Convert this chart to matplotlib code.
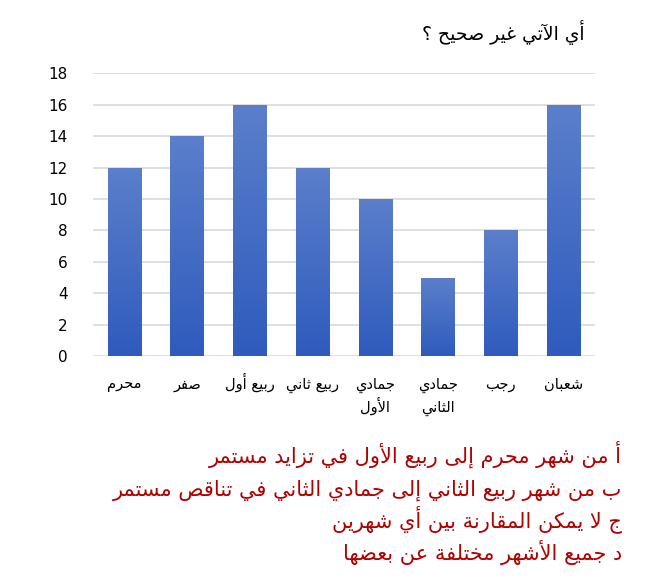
import matplotlib
matplotlib.use("Agg")
import matplotlib.pyplot as plt
import numpy as np
from matplotlib.colors import LinearSegmentedColormap

months = ["محرم", "صفر", "ربيع أول", "ربيع ثاني", "جمادي\nالأول", "جمادي\nالثاني", "رجب", "شعبان"]
values = [12, 14, 16, 12, 10, 5, 8, 16]
yticks = [0, 2, 4, 6, 8, 10, 12, 14, 16, 18]
title = "أي الآتي غير صحيح ؟"
options = [
    "أ من شهر محرم إلى ربيع الأول في تزايد مستمر",
    "ب من شهر ربيع الثاني إلى جمادي الثاني في تناقص مستمر",
    "ج لا يمكن المقارنة بين أي شهرين",
    "د جميع الأشهر مختلفة عن بعضها",
]

# arabic presentation forms: isolated, final, initial, medial
FORMS = {
    "ء": (0xFE80, None, None, None),
    "آ": (0xFE81, 0xFE82, None, None),
    "أ": (0xFE83, 0xFE84, None, None),
    "ؤ": (0xFE85, 0xFE86, None, None),
    "إ": (0xFE87, 0xFE88, None, None),
    "ئ": (0xFE89, 0xFE8A, 0xFE8B, 0xFE8C),
    "ا": (0xFE8D, 0xFE8E, None, None),
    "ب": (0xFE8F, 0xFE90, 0xFE91, 0xFE92),
    "ة": (0xFE93, 0xFE94, None, None),
    "ت": (0xFE95, 0xFE96, 0xFE97, 0xFE98),
    "ث": (0xFE99, 0xFE9A, 0xFE9B, 0xFE9C),
    "ج": (0xFE9D, 0xFE9E, 0xFE9F, 0xFEA0),
    "ح": (0xFEA1, 0xFEA2, 0xFEA3, 0xFEA4),
    "خ": (0xFEA5, 0xFEA6, 0xFEA7, 0xFEA8),
    "د": (0xFEA9, 0xFEAA, None, None),
    "ذ": (0xFEAB, 0xFEAC, None, None),
    "ر": (0xFEAD, 0xFEAE, None, None),
    "ز": (0xFEAF, 0xFEB0, None, None),
    "س": (0xFEB1, 0xFEB2, 0xFEB3, 0xFEB4),
    "ش": (0xFEB5, 0xFEB6, 0xFEB7, 0xFEB8),
    "ص": (0xFEB9, 0xFEBA, 0xFEBB, 0xFEBC),
    "ض": (0xFEBD, 0xFEBE, 0xFEBF, 0xFEC0),
    "ط": (0xFEC1, 0xFEC2, 0xFEC3, 0xFEC4),
    "ظ": (0xFEC5, 0xFEC6, 0xFEC7, 0xFEC8),
    "ع": (0xFEC9, 0xFECA, 0xFECB, 0xFECC),
    "غ": (0xFECD, 0xFECE, 0xFECF, 0xFED0),
    "ف": (0xFED1, 0xFED2, 0xFED3, 0xFED4),
    "ق": (0xFED5, 0xFED6, 0xFED7, 0xFED8),
    "ك": (0xFED9, 0xFEDA, 0xFEDB, 0xFEDC),
    "ل": (0xFEDD, 0xFEDE, 0xFEDF, 0xFEE0),
    "م": (0xFEE1, 0xFEE2, 0xFEE3, 0xFEE4),
    "ن": (0xFEE5, 0xFEE6, 0xFEE7, 0xFEE8),
    "ه": (0xFEE9, 0xFEEA, 0xFEEB, 0xFEEC),
    "و": (0xFEED, 0xFEEE, None, None),
    "ى": (0xFEEF, 0xFEF0, None, None),
    "ي": (0xFEF1, 0xFEF2, 0xFEF3, 0xFEF4),
    "لآ": (0xFEF5, 0xFEF6, None, None),
    "لأ": (0xFEF7, 0xFEF8, None, None),
    "لإ": (0xFEF9, 0xFEFA, None, None),
    "لا": (0xFEFB, 0xFEFC, None, None),
}


def shape_line(s):
    toks = []
    i = 0
    while i < len(s):
        if s[i] == "ل" and i + 1 < len(s) and s[i:i + 2] in FORMS:
            toks.append(s[i:i + 2])
            i += 2
        else:
            toks.append(s[i])
            i += 1
    out = []
    for k, t in enumerate(toks):
        f = FORMS.get(t)
        if f is None:
            out.append(t)
            continue
        prev = FORMS.get(toks[k - 1]) if k > 0 else None
        nxt = FORMS.get(toks[k + 1]) if k + 1 < len(toks) else None
        pj = prev is not None and prev[2] is not None and f[1] is not None
        nj = f[2] is not None and nxt is not None and nxt[1] is not None
        if pj and nj:
            c = f[3]
        elif pj:
            c = f[1]
        elif nj:
            c = f[2]
        else:
            c = f[0]
        out.append(chr(c))
    return "".join(out)[::-1]


def ar(s):
    return "\n".join(shape_line(l) for l in s.split("\n"))


plt.rcParams["font.family"] = ["DejaVu Sans"]

fig = plt.figure(figsize=(6.48, 5.85), dpi=100)
ax = fig.add_axes([0.1435, 0.391, 0.7745, 0.484])

x = np.arange(len(months))
bars = ax.bar(x, values, width=0.53, color="#4a72c8", zorder=2)

cmap = LinearSegmentedColormap.from_list("g", ["#2f5bbd", "#5b7fcb"])
grad = np.linspace(0, 1, 256).reshape(-1, 1)
for b in bars:
    x0, y0 = b.get_x(), b.get_y()
    im = ax.imshow(grad, cmap=cmap, origin="lower", aspect="auto",
                   extent=[x0, x0 + b.get_width(), y0, y0 + b.get_height()], zorder=3)
    im.set_clip_path(b)

ax.set_xlim(-0.5, len(months) - 0.5)
ax.set_ylim(0, 18)
ax.set_yticks(yticks)
ax.set_yticklabels([str(v) for v in yticks], fontsize=11)
ax.set_xticks(x)
ax.set_xticklabels([])
ax.tick_params(axis="both", length=0)
ax.tick_params(axis="y", pad=18)
ax.grid(axis="y", color="#d9d9d9", linewidth=1.2, zorder=0)
ax.set_axisbelow(True)
for sp in ax.spines.values():
    sp.set_visible(False)

# category labels, placed on a common baseline
trans = ax.get_xaxis_transform()
for xi, m in zip(x, months):
    for j, part in enumerate(m.split("\n")):
        ax.text(xi, -(32 + 23 * j) / 283, ar(part), transform=trans, ha="center",
                va="baseline", fontsize=10.5)

fig.text(585 / 648, 1 - 40 / 585, ar(title), ha="right", va="baseline", fontsize=13.5)

for k, line in enumerate(options):
    fig.text(622 / 648, 1 - (463 + 32.3 * k) / 585, ar(line), ha="right", va="baseline",
             fontsize=15, color="#b00000")

fig.savefig("out.png", dpi=100)
